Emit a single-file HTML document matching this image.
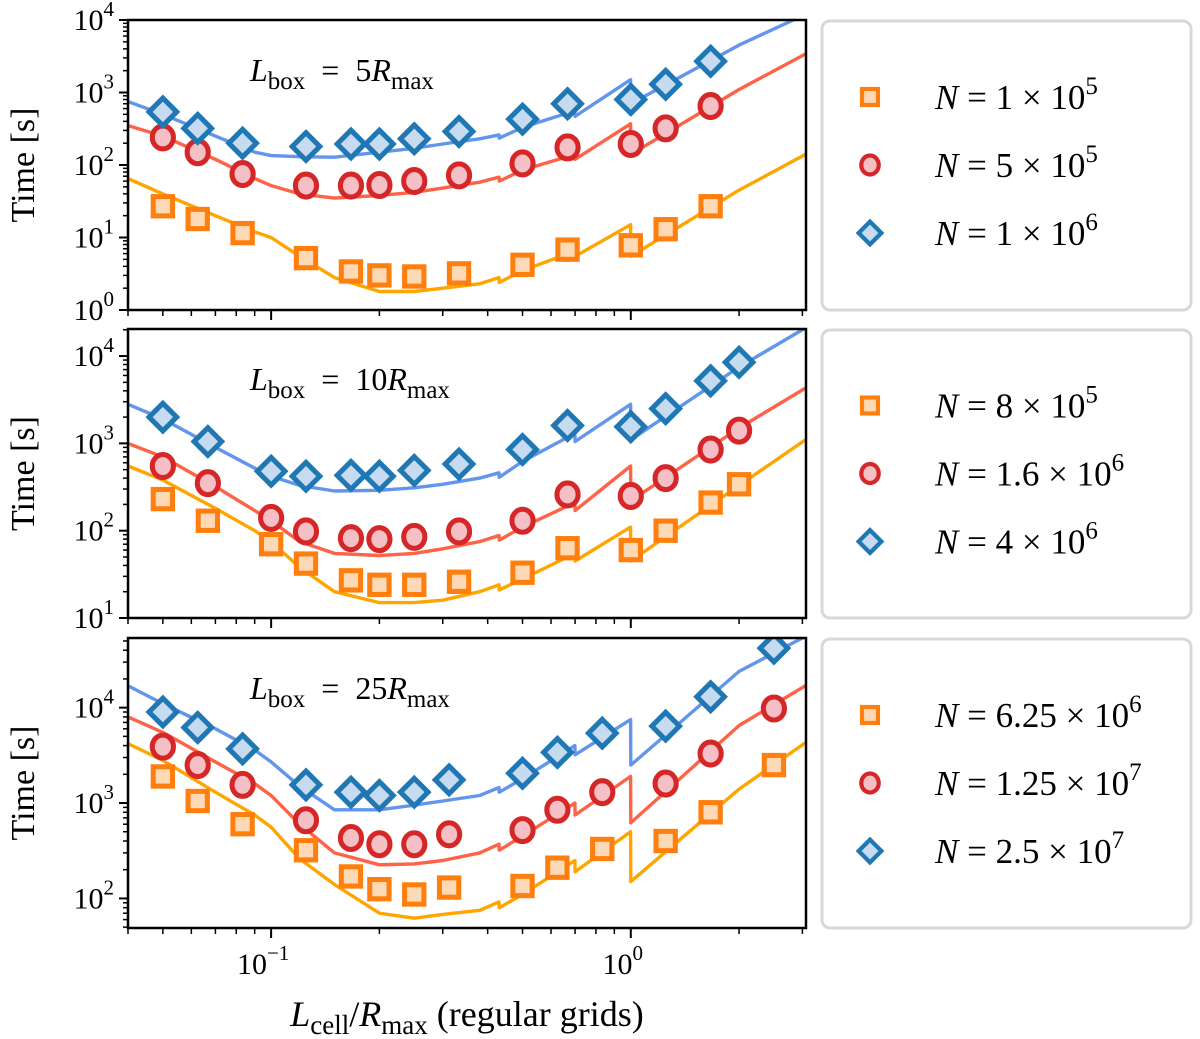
<!DOCTYPE html>
<html><head><meta charset="utf-8"><style>
body{margin:0;background:#fff}
svg{display:block;font-family:"Liberation Serif",serif}
</style></head><body>
<svg id="c" width="1200" height="1039" viewBox="0 0 1200 1039" xmlns="http://www.w3.org/2000/svg"></svg>
<script>
// ---- data ----
const p1X=[0.05,0.0625,0.0833,0.125,0.1667,0.2,0.25,0.333,0.5,0.667,1,1.25,1.667];
const p1Blue=[540,320,200,180,195,195,230,290,430,700,800,1300,2700];
const p1Red=[240,150,75,52,52,53,60,72,105,175,195,320,650];
const p1Orange=[27,18,11.5,5.2,3.4,3.0,2.9,3.2,4.2,6.8,7.8,13,27];
const p2X=[0.05,0.0667,0.1,0.125,0.1667,0.2,0.25,0.333,0.5,0.667,1,1.25,1.667,2];
const p2Blue=[2000,1050,480,420,430,420,490,580,850,1600,1550,2500,5200,8500];
const p2Red=[550,350,140,98,82,80,85,98,130,260,250,400,850,1400];
const p2Orange=[230,130,70,42,27,24,24,26,33,63,60,100,210,340];
const p3X=[0.05,0.0625,0.0833,0.125,0.1667,0.2,0.25,0.3125,0.5,0.625,0.833,1.25,1.667,2.5];
const p3Blue=[9000,6200,3700,1550,1300,1200,1300,1750,2050,3400,5400,6400,13000,42000];
const p3Red=[3900,2500,1550,660,430,370,370,470,520,850,1300,1600,3300,9800];
const p3Orange=[1900,1050,600,320,170,125,110,130,135,210,330,400,800,2500];
// model curves
const lineX=[0.04,0.05,0.07,0.09,0.1,0.12,0.15,0.2,0.25,0.3,0.38,0.43,0.431,0.5,0.699,0.7,0.999,1.0,2,3.06];
const l1Blue=[750,500,250,150,135,130,128,150,170,195,230,260,235,330,560,470,1500,700,4500,12000];
const l1Red=[350,250,120,65,52,40,35,38,42,48,58,68,60,85,140,120,370,140,1100,3400];
const l1Orange=[65,40,20,12,10,5.5,2.8,1.8,1.8,2.0,2.3,2.8,2.4,3.5,6.5,5.5,15,5.5,45,140];
const l2Blue=[2800,1900,900,520,420,330,285,290,310,340,400,460,410,620,1300,1050,2800,1100,7500,21000];
const l2Red=[1000,700,320,170,130,75,55,52,55,62,75,88,78,110,210,170,550,220,1500,4300];
const l2Orange=[550,380,180,100,75,38,20,15,15,16,20,24,21,28,55,45,110,45,330,1100];
const l3Blue=[17000,11000,6000,3600,2700,1500,850,850,950,1050,1200,1450,1300,1800,4000,3200,7500,2500,24000,56000];
const l3Red=[8000,5500,2700,1600,1200,600,300,225,230,250,300,370,320,450,1000,750,1900,620,6500,17000];
const l3Orange=[4200,2800,1300,750,560,260,140,70,62,68,75,92,80,110,250,190,500,150,1400,4300];
const yTicks1=[0,1,2,3,4], yTicks2=[1,2,3,4], yTicks3=[2,3,4];
const xTickLabels=["10","10"], xTickExp=["\u22121","0"];

const NS="http://www.w3.org/2000/svg";
const svg=document.getElementById('c');
function el(t,a,p){const e=document.createElementNS(NS,t);for(const k in a)e.setAttribute(k,a[k]);(p||svg).appendChild(e);return e;}
const X0=128,X1=806,LMIN=Math.log10(0.04),LMAX=Math.log10(3.07);
function sx(v){return X0+(Math.log10(v)-LMIN)/(LMAX-LMIN)*(X1-X0);}
const COL={blue:["#6495ed","#1f77b4","#c6dbef"],red:["#ff6347","#d62728","#f4c0c6"],orange:["#ffa500","#ff7f0e","#fdd9b5"]};

function marker(g,kind,cx,cy,s){
  let m;
  if(kind==='orange'){m=el('rect',{x:cx-s*0.42,y:cy-s*0.42,width:s*0.84,height:s*0.84,fill:COL.orange[2],stroke:COL.orange[1],'stroke-width':s*0.22},g);}
  else if(kind==='red'){m=el('ellipse',{cx:cx,cy:cy,rx:s*0.46,ry:s*0.5,fill:COL.red[2],stroke:COL.red[1],'stroke-width':s*0.22},g);}
  else {const d=s*0.6;m=el('polygon',{points:`${cx},${cy-d} ${cx+d},${cy} ${cx},${cy+d} ${cx-d},${cy}`,fill:COL.blue[2],stroke:COL.blue[1],'stroke-width':s*0.22},g);}
  return m;
}

function panel(idx,top,bot,ymin,ymax,ticks,xs,series,lines,title,legend,showX){
  const g=el('g',{});
  
  
  const sy=v=>bot-(Math.log10(v)-ymin)/(ymax-ymin)*(bot-top);
  const cid='clip'+idx;
  const cp=el('clipPath',{id:cid},g);el('rect',{x:X0,y:top,width:X1-X0,height:bot-top},cp);
  const lg=el('g',{'clip-path':`url(#${cid})`},g);
  ['orange','red','blue'].forEach(k=>{
    const d=lineX.map((x,i)=>(i?'L':'M')+sx(x).toFixed(1)+','+sy(lines[k][i]).toFixed(1)).join('');
    const p=el('path',{d:d,fill:'none',stroke:COL[k][0],'stroke-width':3.4,'stroke-linejoin':'round'},lg);
    
    
  });
  ['orange','red','blue'].forEach(k=>{
    xs.forEach((x,i)=>{
      const m=marker(lg,k,sx(x),sy(series[k][i]),23);
      
      
    });
  });
  const fr=el('rect',{x:X0,y:top,width:X1-X0,height:bot-top,fill:'none',stroke:'#000','stroke-width':2.5},g);
  
  
  for(let e=Math.floor(ymin);e<=Math.ceil(ymax);e++){
    for(let m=1;m<10;m++){
      const v=m*Math.pow(10,e),lv=Math.log10(v);
      if(lv<ymin-1e-6||lv>ymax+1e-6)continue;
      const y=sy(v);
      el('line',{x1:X0,x2:X0-(m===1?9:5),y1:y,y2:y,stroke:'#000','stroke-width':m===1?2:1.5},g);
    }
  }
  ticks.forEach(e=>{
    const t=el('text',{x:X0-14,y:sy(Math.pow(10,e))+10,'font-size':30,'text-anchor':'end'},g);
    
    
    t.textContent='10';
    const s=el('tspan',{dy:-14,'font-size':21},t);s.textContent=String(e);
  });
  for(let e=-2;e<=0;e++)for(let m=1;m<10;m++){
    const v=m*Math.pow(10,e);if(v<0.04||v>3.07)continue;
    const x=sx(v);
    el('line',{x1:x,x2:x,y1:bot,y2:bot+(m===1?10:6),stroke:'#000','stroke-width':m===1?2:1.5},g);
  }
  if(showX){
    [0.1,1].forEach((v,i)=>{
      const t=el('text',{x:sx(v)-8,y:bot+46,'font-size':30,'text-anchor':'middle'},g);
      
      
      t.textContent=xTickLabels[i];
      const s=el('tspan',{dy:-14,'font-size':21},t);s.textContent=xTickExp[i];
    });
  }
  const tt=el('text',{x:250,y:top+61,'font-size':32},g);
  
  
  tt.innerHTML=`<tspan font-style="italic">L</tspan><tspan dy="8" font-size="25">box</tspan><tspan dy="-8" xml:space="preserve">  =  ${title}</tspan><tspan font-style="italic">R</tspan><tspan dy="8" font-size="25">max</tspan>`;
  const yl=el('text',{x:0,y:0,'font-size':34,'text-anchor':'middle',transform:`translate(34,${(top+bot)/2}) rotate(-90)`},g);
  
  
  yl.textContent='Time [s]';
  const lb=el('g',{},g);
  
  
  el('rect',{x:822,y:top+1,width:369,height:bot-top-1,rx:8,fill:'#fff',stroke:'#d8d8d8','stroke-width':3},lb);
  const cy=(top+bot)/2, off=[-68,0,68];
  ['orange','red','blue'].forEach((k,i)=>{
    const y=cy+off[i];
    const m=marker(lb,k,870,y,19);
    
    
    const t=el('text',{x:935,y:y+12,'font-size':35},lb);
    
    
    t.innerHTML=`<tspan font-style="italic">N</tspan> = ${legend[i][0]} × 10<tspan dy="-15" font-size="25">${legend[i][1]}</tspan>`;
  });
}
panel(1,20,310,0,4,yTicks1,p1X,{blue:p1Blue,red:p1Red,orange:p1Orange},{blue:l1Blue,red:l1Red,orange:l1Orange},'5',[['1','5'],['5','5'],['1','6']],false);
panel(2,329,618,1,4.31,yTicks2,p2X,{blue:p2Blue,red:p2Red,orange:p2Orange},{blue:l2Blue,red:l2Red,orange:l2Orange},'10',[['8','5'],['1.6','6'],['4','6']],false);
panel(3,638,928,1.69,4.73,yTicks3,p3X,{blue:p3Blue,red:p3Red,orange:p3Orange},{blue:l3Blue,red:l3Red,orange:l3Orange},'25',[['6.25','6'],['1.25','7'],['2.5','7']],true);
const xt=el('text',{x:467,y:1026,'font-size':36,'text-anchor':'middle'});


xt.innerHTML='<tspan font-style="italic">L</tspan><tspan dy="8" font-size="27">cell</tspan><tspan dy="-8">/</tspan><tspan font-style="italic">R</tspan><tspan dy="8" font-size="27">max</tspan><tspan dy="-8"> (regular grids)</tspan>';
</script>
</body></html>
